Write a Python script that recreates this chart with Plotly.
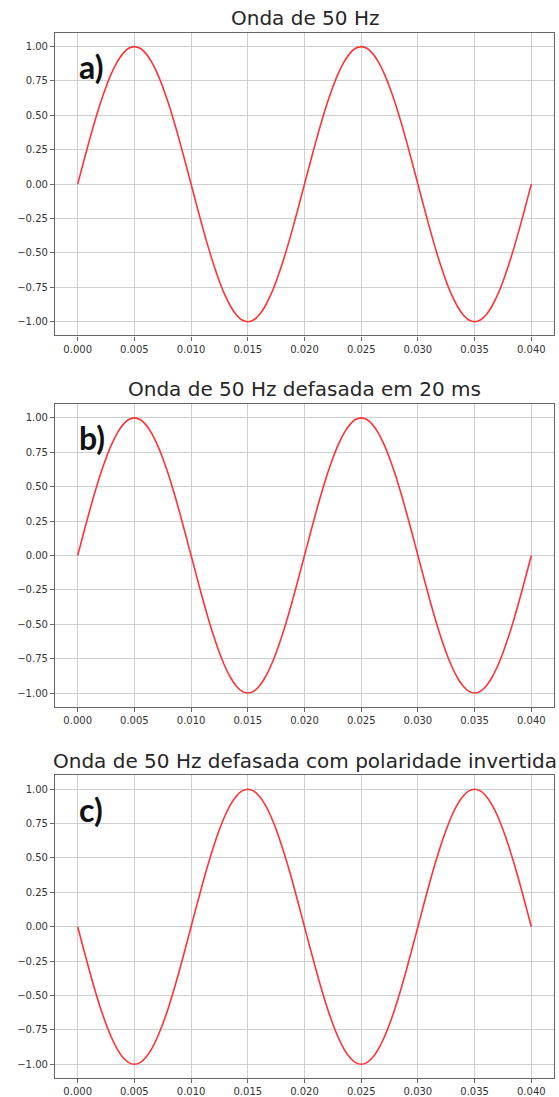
import plotly.graph_objects as go

# sample times (s), every 0.5 ms
t = [0.0000, 0.0005, 0.0010, 0.0015, 0.0020, 0.0025, 0.0030, 0.0035, 0.0040, 0.0045,
     0.0050, 0.0055, 0.0060, 0.0065, 0.0070, 0.0075, 0.0080, 0.0085, 0.0090, 0.0095,
     0.0100, 0.0105, 0.0110, 0.0115, 0.0120, 0.0125, 0.0130, 0.0135, 0.0140, 0.0145,
     0.0150, 0.0155, 0.0160, 0.0165, 0.0170, 0.0175, 0.0180, 0.0185, 0.0190, 0.0195,
     0.0200, 0.0205, 0.0210, 0.0215, 0.0220, 0.0225, 0.0230, 0.0235, 0.0240, 0.0245,
     0.0250, 0.0255, 0.0260, 0.0265, 0.0270, 0.0275, 0.0280, 0.0285, 0.0290, 0.0295,
     0.0300, 0.0305, 0.0310, 0.0315, 0.0320, 0.0325, 0.0330, 0.0335, 0.0340, 0.0345,
     0.0350, 0.0355, 0.0360, 0.0365, 0.0370, 0.0375, 0.0380, 0.0385, 0.0390, 0.0395,
     0.0400]

# a) 50 Hz wave
wave_a = [0.000, 0.156, 0.309, 0.454, 0.588, 0.707, 0.809, 0.891, 0.951, 0.988,
          1.000, 0.988, 0.951, 0.891, 0.809, 0.707, 0.588, 0.454, 0.309, 0.156,
          0.000, -0.156, -0.309, -0.454, -0.588, -0.707, -0.809, -0.891, -0.951, -0.988,
          -1.000, -0.988, -0.951, -0.891, -0.809, -0.707, -0.588, -0.454, -0.309, -0.156,
          0.000, 0.156, 0.309, 0.454, 0.588, 0.707, 0.809, 0.891, 0.951, 0.988,
          1.000, 0.988, 0.951, 0.891, 0.809, 0.707, 0.588, 0.454, 0.309, 0.156,
          0.000, -0.156, -0.309, -0.454, -0.588, -0.707, -0.809, -0.891, -0.951, -0.988,
          -1.000, -0.988, -0.951, -0.891, -0.809, -0.707, -0.588, -0.454, -0.309, -0.156,
          0.000]

# b) 50 Hz wave shifted by 20 ms
wave_b = [0.000, 0.156, 0.309, 0.454, 0.588, 0.707, 0.809, 0.891, 0.951, 0.988,
          1.000, 0.988, 0.951, 0.891, 0.809, 0.707, 0.588, 0.454, 0.309, 0.156,
          0.000, -0.156, -0.309, -0.454, -0.588, -0.707, -0.809, -0.891, -0.951, -0.988,
          -1.000, -0.988, -0.951, -0.891, -0.809, -0.707, -0.588, -0.454, -0.309, -0.156,
          0.000, 0.156, 0.309, 0.454, 0.588, 0.707, 0.809, 0.891, 0.951, 0.988,
          1.000, 0.988, 0.951, 0.891, 0.809, 0.707, 0.588, 0.454, 0.309, 0.156,
          0.000, -0.156, -0.309, -0.454, -0.588, -0.707, -0.809, -0.891, -0.951, -0.988,
          -1.000, -0.988, -0.951, -0.891, -0.809, -0.707, -0.588, -0.454, -0.309, -0.156,
          0.000]

# c) shifted with inverted polarity
wave_c = [0.000, -0.156, -0.309, -0.454, -0.588, -0.707, -0.809, -0.891, -0.951, -0.988,
          -1.000, -0.988, -0.951, -0.891, -0.809, -0.707, -0.588, -0.454, -0.309, -0.156,
          0.000, 0.156, 0.309, 0.454, 0.588, 0.707, 0.809, 0.891, 0.951, 0.988,
          1.000, 0.988, 0.951, 0.891, 0.809, 0.707, 0.588, 0.454, 0.309, 0.156,
          0.000, -0.156, -0.309, -0.454, -0.588, -0.707, -0.809, -0.891, -0.951, -0.988,
          -1.000, -0.988, -0.951, -0.891, -0.809, -0.707, -0.588, -0.454, -0.309, -0.156,
          0.000, 0.156, 0.309, 0.454, 0.588, 0.707, 0.809, 0.891, 0.951, 0.988,
          1.000, 0.988, 0.951, 0.891, 0.809, 0.707, 0.588, 0.454, 0.309, 0.156,
          0.000]

titles = ["Onda de 50 Hz",
          "Onda de 50 Hz defasada em 20 ms",
          "Onda de 50 Hz defasada com polaridade invertida"]
panel_labels = ["a)", "b)", "c)"]
x_ticks = [0.000, 0.005, 0.010, 0.015, 0.020, 0.025, 0.030, 0.035, 0.040]
y_ticks = [-1.00, -0.75, -0.50, -0.25, 0.00, 0.25, 0.50, 0.75, 1.00]

W, H = 559, 1097
# pixel layout of each axes box (top, bottom)
boxes = [(33, 337), (406, 710), (779, 1083)]
x_left, x_right = 55, 554

fig = go.Figure()
series = [wave_a, wave_b, wave_c]
for i, ys in enumerate(series):
    n = "" if i == 0 else str(i + 1)
    fig.add_trace(go.Scatter(x=t, y=ys, mode="lines",
                             line=dict(color="#ff3333", width=1.6, shape="spline"),
                             xaxis="x" + n, yaxis="y" + n, showlegend=False, hoverinfo="skip"))
    top, bot = boxes[i]
    dom_y = [1 - bot / H, 1 - top / H]
    axis_common = dict(showline=True, linecolor="#666666", linewidth=1.2, mirror=True,
                       showgrid=True, gridcolor="#cfcfcf", gridwidth=1, zeroline=False,
                       ticks="outside", ticklen=4, tickcolor="#666666",
                       tickfont=dict(family="DejaVu Sans", size=10, color="#333333"))
    fig.update_layout({
        "xaxis" + n: dict(domain=[x_left / W, x_right / W], range=[-0.002, 0.042],
                          tickvals=x_ticks, tickformat=".3f", anchor="y" + n, **axis_common),
        "yaxis" + n: dict(domain=dom_y, range=[-1.1, 1.1], tickvals=y_ticks,
                          tickformat=".2f", anchor="x" + n, **axis_common),
    })
    fig.add_annotation(text=titles[i], xref="paper", yref="paper",
                       x=((x_left + x_right) / 2) / W, y=1 - (top - 15) / H,
                       showarrow=False, xanchor="center", yanchor="middle",
                       font=dict(family="DejaVu Sans", size=20, color="#262626"))
    fig.add_annotation(text="<b>" + panel_labels[i] + "</b>", xref="paper", yref="paper",
                       x=77 / W, y=1 - (top + 34) / H,
                       showarrow=False, xanchor="left", yanchor="middle",
                       font=dict(family="Lato", size=32, color="#111111"))

fig.update_layout(width=W, height=H, margin=dict(l=0, r=0, t=0, b=0),
                  paper_bgcolor="white", plot_bgcolor="white")

fig.write_html("out.html", config={"displayModeBar": False},
               post_script="document.body.style.margin='0';document.body.style.overflow='hidden';")
